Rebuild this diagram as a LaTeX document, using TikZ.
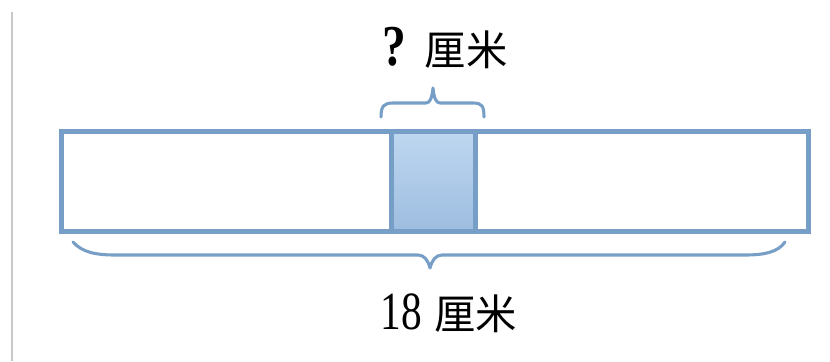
\documentclass[tikz,border=0pt]{standalone}
\usepackage{fontspec}
\usepackage{graphicx}
\setmainfont{Liberation Serif}
\newfontfamily\cjk{Noto Sans CJK SC}
\definecolor{barblue}{RGB}{118,158,198}
\definecolor{shtop}{RGB}{190,215,240}
\definecolor{shbot}{RGB}{157,189,224}
\definecolor{edgegray}{RGB}{200,200,200}
\tikzset{
  bar/.style={draw=barblue, line width=3.8pt, rectangle, inner sep=0pt, minimum height=75pt},
  bracepath/.style={draw=barblue, line width=2.3pt, line cap=round, line join=round},
  lbl/.style={inner sep=0pt, font=\fontsize{31pt}{34pt}\selectfont}
}
\begin{document}
\begin{tikzpicture}[x=0.75pt, y=-0.75pt]
\useasboundingbox (0,0) rectangle (830,361);
% left thin gray line
\draw[edgegray, line width=0.8pt] (12,12) -- (12,361);
% bars
\node[bar, minimum width=247.5pt, anchor=north west] (left) at (59,129) {};
\node[bar, minimum width=63pt, anchor=north west, top color=shtop, bottom color=shbot] (mid) at (389,129) {};
\node[bar, minimum width=249.75pt, anchor=north west] (right) at (473,129) {};
% top brace
\coordinate (ta) at (381,117);
\coordinate (tb) at (484,117);
\coordinate (tt) at (433,88);
\draw[bracepath] (ta) .. controls (381,106) and (384,103) .. (393,103)
  -- (426,103) .. controls (430,103) and (432,98) .. (tt)
  .. controls (434,98) and (436,103) .. (440,103)
  -- (473,103) .. controls (482,103) and (484,106) .. (tb);
% bottom brace
\coordinate (ba) at (73,242);
\coordinate (bb) at (785,242);
\coordinate (bt) at (430,268);
\draw[bracepath] (ba) .. controls (82,252) and (95,255) .. (115,255)
  -- (418,255) .. controls (424,255) and (428,260) .. (bt)
  .. controls (432,260) and (436,255) .. (442,255)
  -- (745,255) .. controls (765,255) and (778,252) .. (bb);
% labels
\node[lbl] (q) at (445,48) {\scalebox{1.15}[1.4]{\bfseries ?}\hspace{0.45em}{\cjk 厘米}};
\node[lbl] (tot) at (449,313) {\scalebox{1}[1.3]{18}\hspace{0.3em}{\cjk 厘米}};
\end{tikzpicture}
\end{document}
